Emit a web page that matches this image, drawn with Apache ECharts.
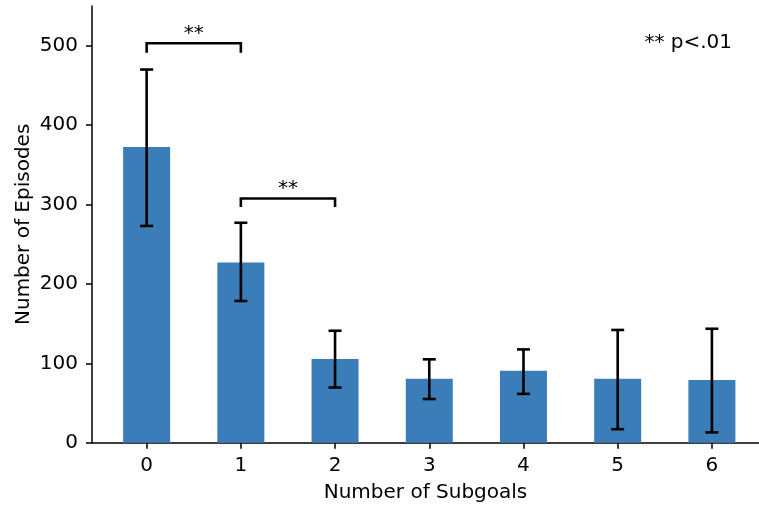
<!DOCTYPE html>
<html>
<head>
<meta charset="utf-8">
<script src="https://cdn.jsdelivr.net/npm/echarts@6/dist/echarts.min.js"></script>
<style>html,body{margin:0;padding:0;background:#fff}#c{width:759px;height:506px}</style>
</head>
<body>
<div id="c"></div>
<script>
var categories = [0, 1, 2, 3, 4, 5, 6];
var episodes = [372.5, 227, 105.5, 80.5, 90.5, 80.5, 79];
var errLow = [273, 178.5, 69.5, 55, 61.5, 17, 13];
var errHigh = [470, 277, 141, 105, 117.5, 142, 143.5];
var yTicks = [0, 100, 200, 300, 400, 500];
// brackets: [fromCategory, toCategory, topValue, legValue, label]
var brackets = [[0, 1, 503, 491, '**'], [1, 2, 307.5, 297, '**']];
var noteText = '** p<.01';

var FONT = 'DejaVu Sans';
var FS = 20;
var chart = echarts.init(document.getElementById('c'), null, {renderer: 'canvas'});

var barData = categories.map(function (c, i) { return [c, episodes[i]]; });
var errData = categories.map(function (c, i) { return [c, errLow[i], errHigh[i]]; });

chart.setOption({
  animation: false,
  backgroundColor: '#ffffff',
  title: {
    text: noteText, right: 22, top: 28,
    textStyle: {fontFamily: FONT, fontSize: FS, fontWeight: 'normal', color: '#000'}
  },
  grid: {left: 92, right: 0, top: 6, bottom: 63.3, containLabel: false, outerBoundsMode: 'none'},
  xAxis: {
    type: 'value', min: -0.58, max: 6.5,
    name: 'Number of Subgoals', nameLocation: 'middle', nameGap: 40,
    nameTextStyle: {fontFamily: FONT, fontSize: FS, color: '#000'},
    axisLine: {show: true, onZero: false, lineStyle: {color: '#000', width: 1.5}},
    axisTick: {show: true, length: 6, lineStyle: {color: '#000', width: 1.5}, customValues: categories},
    axisLabel: {fontFamily: FONT, fontSize: FS, color: '#000', margin: 13, customValues: categories},
    splitLine: {show: false}
  },
  yAxis: {
    type: 'value', min: 0, max: 550,
    name: 'Number of Episodes', nameLocation: 'middle', nameGap: 58, nameMoveOverlap: false,
    nameTextStyle: {fontFamily: FONT, fontSize: FS, color: '#000'},
    axisLine: {show: true, onZero: false, lineStyle: {color: '#000', width: 1.5}},
    axisTick: {show: true, length: 6, lineStyle: {color: '#000', width: 1.5}, customValues: yTicks},
    axisLabel: {fontFamily: FONT, fontSize: FS, color: '#000', margin: 14, customValues: yTicks},
    splitLine: {show: false}
  },
  series: [
    {
      type: 'bar', data: barData, barWidth: 47,
      itemStyle: {color: '#3a7db8'}, z: 1
    },
    {
      type: 'custom', data: errData, z: 5,
      renderItem: function (params, api) {
        var x = api.value(0);
        var lo = api.coord([x, api.value(1)]);
        var hi = api.coord([x, api.value(2)]);
        var hw = 6.5;
        var st = {stroke: '#000', lineWidth: 2.6};
        return {type: 'group', children: [
          {type: 'line', shape: {x1: lo[0], y1: lo[1], x2: hi[0], y2: hi[1]}, style: st},
          {type: 'line', shape: {x1: lo[0] - hw, y1: lo[1], x2: lo[0] + hw, y2: lo[1]}, style: st},
          {type: 'line', shape: {x1: hi[0] - hw, y1: hi[1], x2: hi[0] + hw, y2: hi[1]}, style: st}
        ]};
      }
    },
    {
      type: 'custom', data: brackets, z: 6,
      renderItem: function (params, api) {
        var b = brackets[params.dataIndex];
        var p1 = api.coord([b[0], b[2]]);
        var p2 = api.coord([b[1], b[2]]);
        var l1 = api.coord([b[0], b[3]]);
        var st = {stroke: '#000', lineWidth: 2.6, fill: null};
        return {type: 'group', children: [
          {type: 'polyline', shape: {points: [[p1[0], l1[1]], [p1[0], p1[1]], [p2[0], p2[1]], [p2[0], l1[1]]]}, style: st},
          {type: 'text', style: {text: b[4], x: (p1[0] + p2[0]) / 2, y: p1[1] + 0.5, align: 'center', verticalAlign: 'bottom',
            font: FS + 'px "DejaVu Sans"', fill: '#000'}}
        ]};
      }
    }
  ]
});
</script>
</body>
</html>
